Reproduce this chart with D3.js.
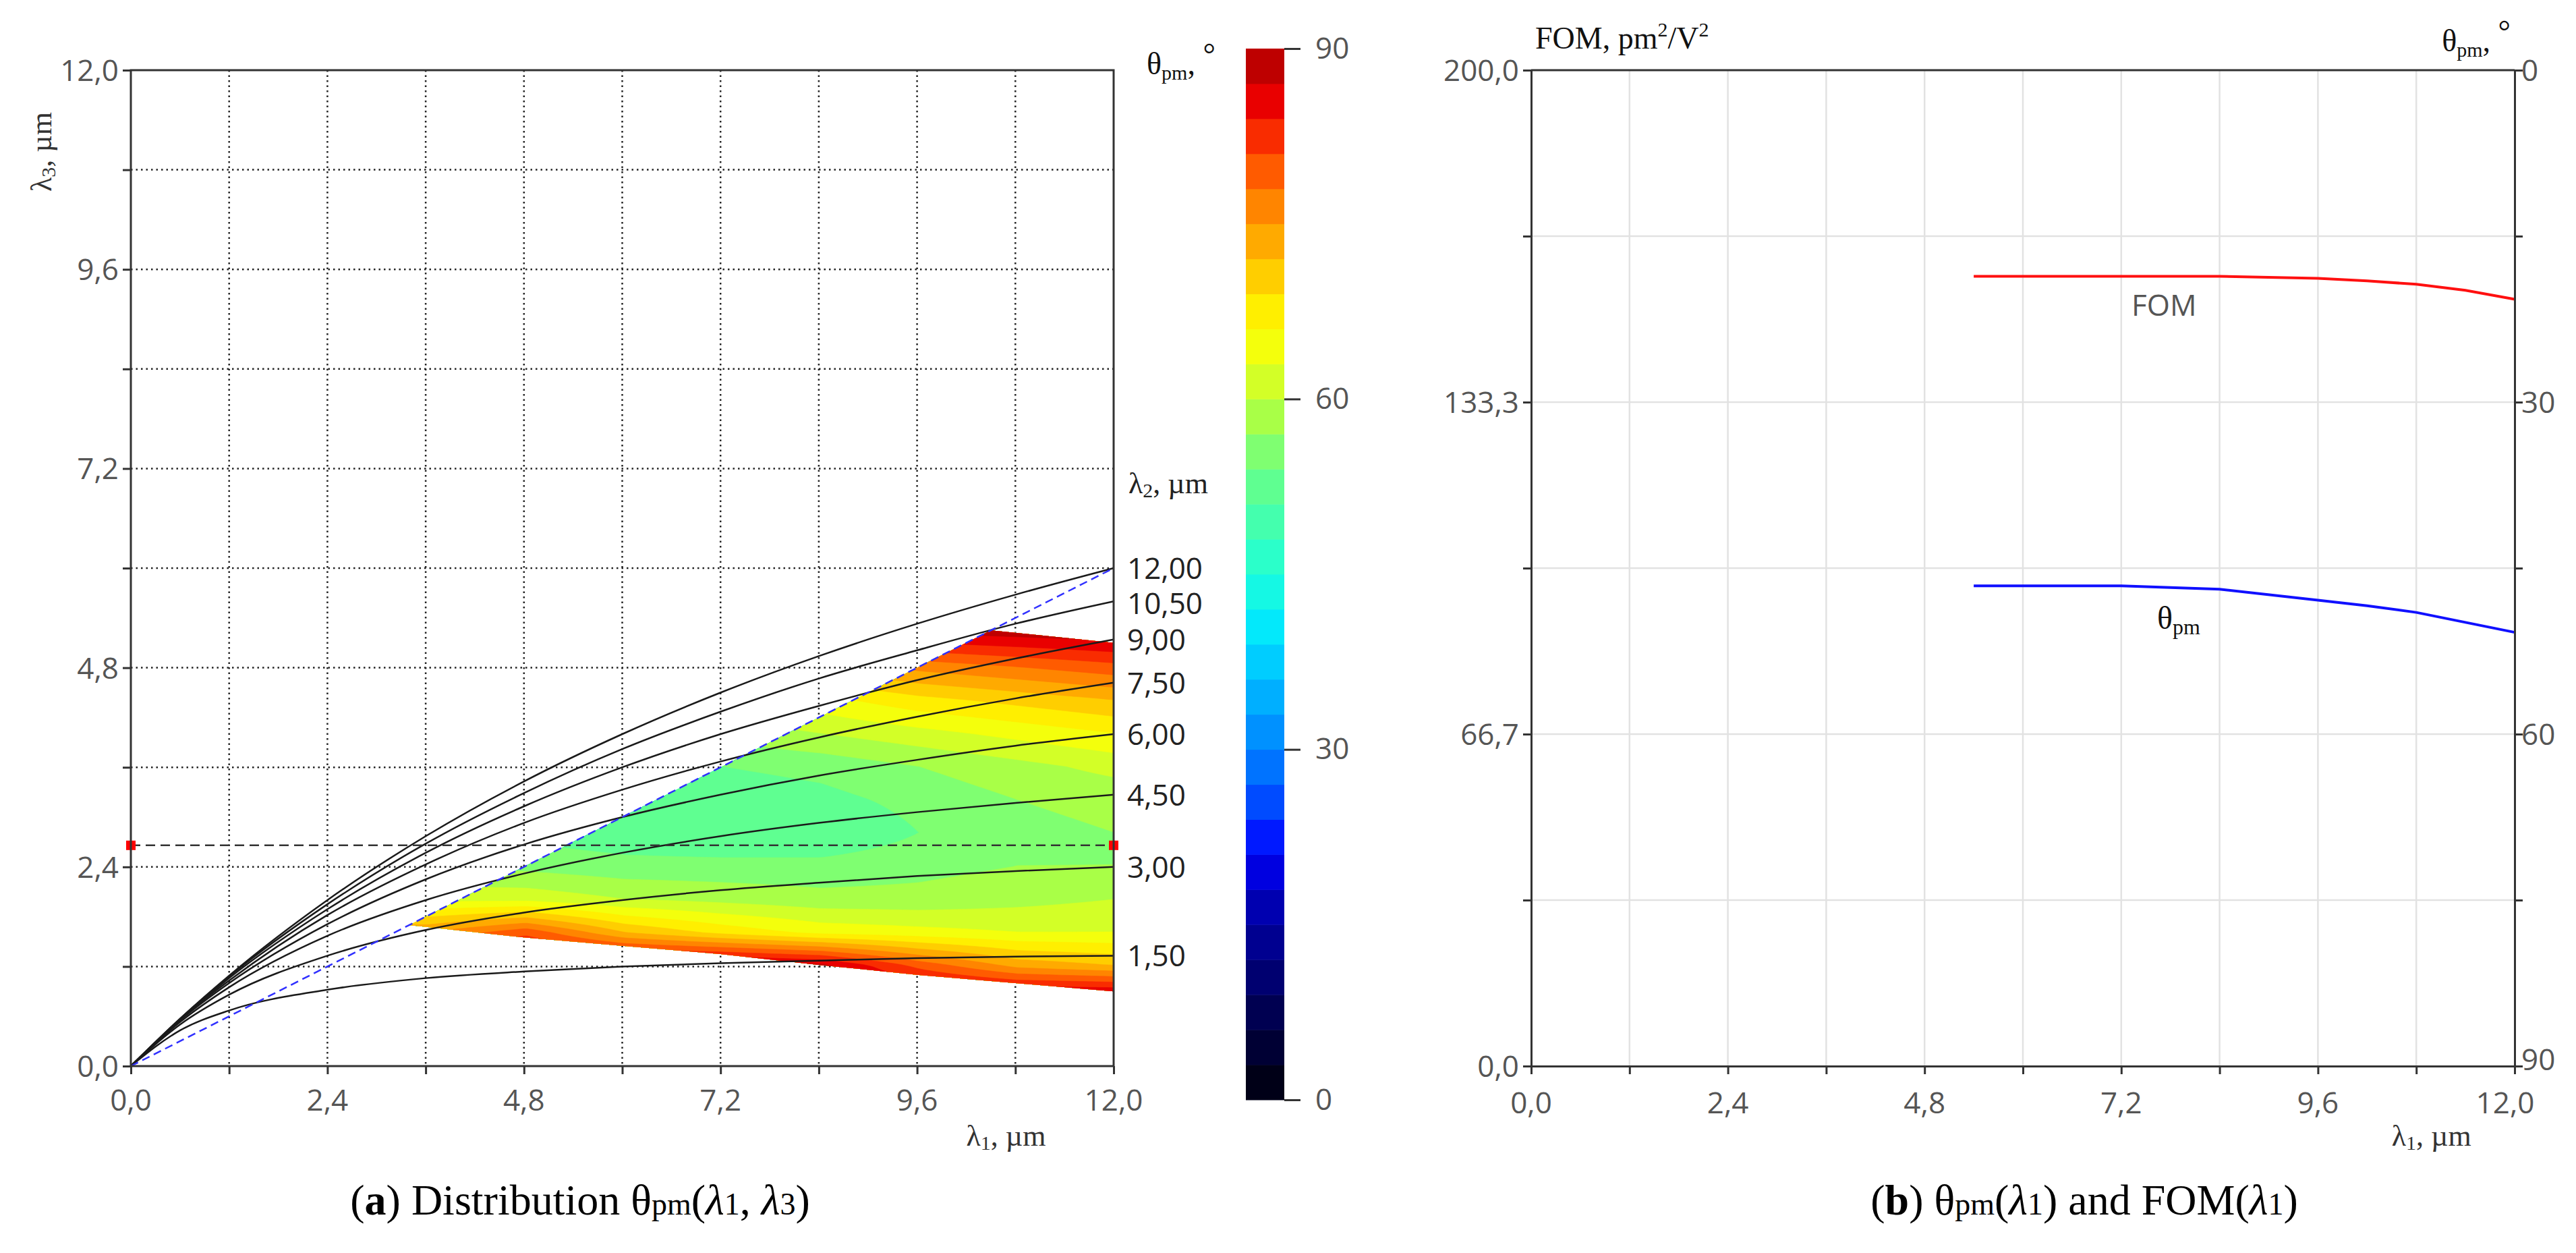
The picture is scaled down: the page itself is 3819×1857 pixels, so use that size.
<!DOCTYPE html>
<html><head><meta charset="utf-8">
<script src="https://cdn.jsdelivr.net/npm/d3@7"></script>
<style>
body{margin:0;background:#fff}
text{font-family:"Open Sans","Noto Sans",sans-serif}
.serif{font-family:"Liberation Serif","DejaVu Serif",serif}
</style></head><body>
<svg id="c" width="3819" height="1857"></svg>
<script>
// ---- data ----
const lambda1Grid = [0, 0.6, 1.2, 2.4, 3.6, 4.8, 6.0, 7.2, 8.4, 9.6, 10.8, 12.0];
const lambda2Values = [1.5, 3, 4.5, 6, 7.5, 9, 10.5, 12];
const lambda2Labels = ['1,50', '3,00', '4,50', '6,00', '7,50', '9,00', '10,50', '12,00'];
const lambda3Curves = [
  [0, 0.43, 0.67, 0.92, 1.06, 1.14, 1.20, 1.24, 1.27, 1.30, 1.32, 1.33],
  [0, 0.50, 0.86, 1.33, 1.64, 1.85, 2.00, 2.12, 2.21, 2.29, 2.35, 2.40],
  [0, 0.53, 0.95, 1.57, 2.00, 2.32, 2.57, 2.77, 2.93, 3.06, 3.17, 3.27],
  [0, 0.55, 1.00, 1.71, 2.25, 2.67, 3.00, 3.27, 3.50, 3.69, 3.86, 4.00],
  [0, 0.56, 1.03, 1.82, 2.43, 2.93, 3.33, 3.67, 3.96, 4.21, 4.43, 4.62],
  [0, 0.56, 1.06, 1.89, 2.57, 3.13, 3.60, 4.00, 4.34, 4.65, 4.91, 5.14],
  [0, 0.57, 1.08, 1.95, 2.68, 3.29, 3.82, 4.27, 4.67, 5.01, 5.33, 5.60],
  [0, 0.57, 1.09, 2.00, 2.77, 3.43, 4.00, 4.50, 4.94, 5.33, 5.68, 6.00]
];
const diagX = [0, 12], diagY = [0, 6];
const cutLambda3 = 2.66;

// phase-matching region boundary
const regionX = [3.4, 4.8, 6.0, 7.2, 8.4, 9.6, 10.8, 12.0, 12.0, 10.5, 3.4];
const regionY = [1.70, 1.55, 1.45, 1.35, 1.22, 1.10, 1.00, 0.90, 5.10, 5.25, 1.70];

// theta_pm field (deg): rows = lambda3, cols = lambda1
const fieldX = [2.4, 3.6, 4.8, 6.0, 7.2, 8.4, 9.6, 10.8, 12.0];
const fieldY = [0.8, 1.2, 1.6, 2.0, 2.4, 2.8, 3.2, 3.6, 4.0, 4.4, 4.8, 5.2, 5.6];
const thetaField = [
  [90, 90, 90, 90, 90, 90, 90, 90, 90],
  [90, 90, 90, 90, 90, 88, 80, 74, 72],
  [75, 75, 80, 72, 68, 65, 64, 63, 63],
  [62, 62, 62, 60, 59, 58, 58, 59, 60],
  [57, 57, 56, 55, 55, 55, 56, 57, 57],
  [55, 55, 53, 52, 51, 51, 54, 56, 57],
  [55, 55, 53, 52, 52, 53, 55, 57, 58],
  [56, 56, 55, 54, 54, 55, 57, 59, 61],
  [58, 58, 57, 57, 58, 60, 62, 64, 66],
  [62, 62, 62, 62, 63, 65, 68, 70, 72],
  [68, 68, 68, 68, 70, 73, 76, 78, 80],
  [80, 80, 80, 80, 82, 85, 87, 88, 89],
  [90, 90, 90, 90, 90, 90, 90, 90, 90]
];
const colorStops = [
  [0, '#000008'], [9, '#000060'], [18, '#0000c0'], [21, '#0000ff'], [27, '#0064ff'],
  [33, '#00a0ff'], [40, '#00e6ff'], [45, '#1effd8'], [51, '#50ffa0'], [55, '#78ff78'],
  [59, '#b0ff40'], [63, '#e8ff18'], [66, '#ffff00'], [71, '#ffc800'], [76, '#ff8c00'],
  [81, '#ff4600'], [85, '#f00000'], [88, '#c80000'], [90, '#a00000']
];
const colorTicks = [0, 30, 60, 90];

// right panel
const fomX = [5.4, 6.0, 7.2, 8.4, 9.6, 10.2, 10.8, 11.4, 12.0];
const fomY = [158.6, 158.6, 158.6, 158.6, 158.2, 157.7, 157.0, 155.8, 154.0];
const thetaY = [46.6, 46.6, 46.6, 46.9, 47.9, 48.4, 49.0, 49.9, 50.8];
const fomTicks = [0, 66.7, 133.3, 200];
const thetaTicks = [90, 60, 30, 0];
const xLabelTicks = [0, 2.4, 4.8, 7.2, 9.6, 12];

const svg = d3.select('#c');
const fmt = v => d3.format('.1f')(v).replace('.', ',');
const gridVals = d3.range(0, 12.01, 1.2);

const bandColor = v => {
  const sc = d3.scaleLinear().domain(colorStops.map(d => d[0])).range(colorStops.map(d => d[1]));
  return sc(Math.min(90, Math.floor(v / 3) * 3 + 1.5));
};

// ===== panel (a) =====
const A = {l: 194, r: 1651, t: 104, b: 1580};
const ax = d3.scaleLinear().domain([0, 12]).range([A.l, A.r]);
const ay = d3.scaleLinear().domain([0, 12]).range([A.b, A.t]);
const ga = svg.append('g');

ga.append('g').selectAll('line.v').data(gridVals.slice(1, -1)).join('line')
  .attr('x1', d => ax(d)).attr('x2', d => ax(d)).attr('y1', A.t).attr('y2', A.b)
  .attr('stroke', '#222').attr('stroke-width', 2.5).attr('stroke-dasharray', '2.5,5');
ga.append('g').selectAll('line.h').data(gridVals.slice(1, -1)).join('line')
  .attr('y1', d => ay(d)).attr('y2', d => ay(d)).attr('x1', A.l).attr('x2', A.r)
  .attr('stroke', '#222').attr('stroke-width', 2.5).attr('stroke-dasharray', '2.5,5');

// field via contours
const nx = 200, ny = 200;
const x0 = fieldX[0], x1 = fieldX[fieldX.length - 1], y0 = fieldY[0], y1 = fieldY[fieldY.length - 1];
const values = new Array(nx * ny);
const fxi = d3.scaleLinear().domain(fieldX).range(d3.range(fieldX.length)).clamp(true);
const fyi = d3.scaleLinear().domain(fieldY).range(d3.range(fieldY.length)).clamp(true);
for (let j = 0; j < ny; j++) {
  const yv = y0 + (y1 - y0) * j / (ny - 1);
  const fj = fyi(yv), j0 = Math.min(Math.floor(fj), fieldY.length - 2), tj = fj - j0;
  for (let i = 0; i < nx; i++) {
    const xv = x0 + (x1 - x0) * i / (nx - 1);
    const fi = fxi(xv), i0 = Math.min(Math.floor(fi), fieldX.length - 2), ti = fi - i0;
    const a = thetaField[j0][i0], b = thetaField[j0][i0 + 1];
    const c = thetaField[j0 + 1][i0], d = thetaField[j0 + 1][i0 + 1];
    values[j * nx + i] = (a * (1 - ti) + b * ti) * (1 - tj) + (c * (1 - ti) + d * ti) * tj;
  }
}
const contours = d3.contours().size([nx, ny]).thresholds(d3.range(0, 90, 3))(values);
const proj = d3.geoTransform({point(px, py) {
  this.stream.point(ax(x0 + (x1 - x0) * px / (nx - 1)), ay(y0 + (y1 - y0) * py / (ny - 1)));
}});
svg.append('clipPath').attr('id', 'reg').append('path')
  .attr('d', d3.line().x((d, i) => ax(regionX[i])).y((d, i) => ay(regionY[i]))(regionX));
ga.append('g').attr('clip-path', 'url(#reg)').selectAll('path').data(contours).join('path')
  .attr('d', d3.geoPath(proj)).attr('fill', d => bandColor(d.value)).attr('stroke', d => bandColor(d.value)).attr('stroke-width', 0.6);

// curves
const line = d3.line().curve(d3.curveMonotoneX);
lambda3Curves.forEach(c => {
  ga.append('path').attr('d', line(lambda1Grid.map((x, i) => [ax(x), ay(c[i])])))
    .attr('fill', 'none').attr('stroke', '#1a1a1a').attr('stroke-width', 2.5);
});
ga.append('path').attr('d', line(diagX.map((x, i) => [ax(x), ay(diagY[i])])))
  .attr('stroke', '#3030ff').attr('stroke-width', 2.5).attr('stroke-dasharray', '12,7').attr('fill', 'none');
ga.append('line').attr('x1', ax(0)).attr('x2', ax(12)).attr('y1', ay(cutLambda3)).attr('y2', ay(cutLambda3))
  .attr('stroke', '#333').attr('stroke-width', 2.5).attr('stroke-dasharray', '14,8');
[0, 12].forEach(x => ga.append('rect').attr('x', ax(x) - 7).attr('y', ay(cutLambda3) - 7)
  .attr('width', 14).attr('height', 14).attr('fill', '#ff0000'));

// frame & axes
ga.append('rect').attr('x', A.l).attr('y', A.t).attr('width', A.r - A.l).attr('height', A.b - A.t)
  .attr('fill', 'none').attr('stroke', '#333').attr('stroke-width', 3);
ga.append('g').attr('transform', `translate(0,${A.b})`)
  .call(d3.axisBottom(ax).tickValues(gridVals).tickSize(12).tickFormat(''))
  .call(g => g.select('.domain').remove()).selectAll('line').attr('stroke', '#333').attr('stroke-width', 3);
ga.append('g').attr('transform', `translate(${A.l},0)`)
  .call(d3.axisLeft(ay).tickValues(gridVals).tickSize(12).tickFormat(''))
  .call(g => g.select('.domain').remove()).selectAll('line').attr('stroke', '#333').attr('stroke-width', 3);
ga.selectAll('text.xt').data(xLabelTicks).join('text')
  .attr('x', d => ax(d)).attr('y', A.b + 66).attr('text-anchor', 'middle')
  .attr('font-size', 44).attr('fill', '#555').text(fmt);
ga.selectAll('text.yt').data(xLabelTicks).join('text')
  .attr('x', A.l - 18).attr('y', d => ay(d) + 16).attr('text-anchor', 'end')
  .attr('font-size', 44).attr('fill', '#555').text(fmt);
const l1 = ga.append('text').attr('class', 'serif').attr('x', ax(10.2)).attr('y', A.b + 118).attr('font-size', 44).attr('fill', '#333');
l1.append('tspan').text('λ'); l1.append('tspan').attr('font-size', 30).attr('dy', 6).text('1');
l1.append('tspan').attr('dy', -6).text(', µm');
const l3 = ga.append('text').attr('class', 'serif').attr('transform', `translate(${A.l - 118},${A.t + 180}) rotate(-90)`)
  .attr('font-size', 44).attr('fill', '#333');
l3.append('tspan').text('λ'); l3.append('tspan').attr('font-size', 30).attr('dy', 6).text('3');
l3.append('tspan').attr('dy', -6).text(', µm');

// lambda2 labels (placed at curve ends, pushed apart so they don't collide)
const l2 = ga.append('text').attr('class', 'serif').attr('x', A.r + 22).attr('y', ay(6.9)).attr('font-size', 44).attr('fill', '#222');
l2.append('tspan').text('λ'); l2.append('tspan').attr('font-size', 30).attr('dy', 6).text('2');
l2.append('tspan').attr('dy', -6).text(', µm');
const labelY = lambda3Curves.map(c => ay(c[c.length - 1]) + 16);
for (let i = labelY.length - 2; i >= 0; i--) labelY[i] = Math.max(labelY[i], labelY[i + 1] + 52);
ga.selectAll('text.l2').data(lambda2Labels).join('text')
  .attr('x', A.r + 20).attr('y', (d, i) => labelY[i])
  .attr('font-size', 44).attr('fill', '#222').text(d => d);

// colorbar
const cb = {x: 1847, w: 57, t: 72, b: 1630};
const cy = d3.scaleLinear().domain([0, 90]).range([cb.b, cb.t]);
ga.append('g').selectAll('rect').data(d3.range(0, 90, 3)).join('rect')
  .attr('x', cb.x).attr('width', cb.w).attr('y', d => cy(d + 3)).attr('height', d => cy(d) - cy(d + 3) + 0.5)
  .attr('fill', d => bandColor(d));
ga.append('g').attr('transform', `translate(${cb.x + cb.w},0)`)
  .call(d3.axisRight(cy).tickValues(colorTicks).tickSize(24).tickPadding(22).tickFormat(d3.format('d')))
  .call(g => g.select('.domain').remove())
  .call(g => g.selectAll('line').attr('stroke', '#333').attr('stroke-width', 3))
  .call(g => g.selectAll('text').attr('font-size', 44).attr('fill', '#555').attr('font-family', '"Open Sans",sans-serif'));
const cbt = ga.append('text').attr('class', 'serif').attr('x', 1700).attr('y', 110).attr('font-size', 46).attr('fill', '#111');
cbt.append('tspan').text('θ'); cbt.append('tspan').attr('font-size', 30).attr('dy', 8).text('pm');
cbt.append('tspan').attr('dy', -8).text(', ');
cbt.append('tspan').attr('dy', -14).text('°');

// ===== panel (b) =====
const B = {l: 2270, r: 3728, t: 104, b: 1580};
const bx = d3.scaleLinear().domain([0, 12]).range([B.l, B.r]);
const by = d3.scaleLinear().domain([0, 200]).range([B.b, B.t]);
const bt = d3.scaleLinear().domain([0, 90]).range([B.t, B.b]);
const gb = svg.append('g');
const fomGrid = d3.range(0, 200.01, 200 / 6);
gb.selectAll('line.v').data(gridVals.slice(1, -1)).join('line')
  .attr('x1', d => bx(d)).attr('x2', d => bx(d)).attr('y1', B.t).attr('y2', B.b)
  .attr('stroke', '#e2e2e2').attr('stroke-width', 2.5);
gb.selectAll('line.h').data(fomGrid.slice(1, -1)).join('line')
  .attr('y1', d => by(d)).attr('y2', d => by(d)).attr('x1', B.l).attr('x2', B.r)
  .attr('stroke', '#e2e2e2').attr('stroke-width', 2.5);
gb.append('path').attr('d', d3.line().x((d, i) => bx(fomX[i])).y(d => by(d))(fomY))
  .attr('fill', 'none').attr('stroke', '#ff1010').attr('stroke-width', 4);
gb.append('path').attr('d', d3.line().x((d, i) => bx(fomX[i])).y(d => bt(d))(thetaY))
  .attr('fill', 'none').attr('stroke', '#1010ff').attr('stroke-width', 4);
gb.append('text').attr('x', 3160).attr('y', 468).attr('font-size', 44).attr('fill', '#555').text('FOM');
const tl = gb.append('text').attr('class', 'serif').attr('x', 3198).attr('y', 932).attr('font-size', 48).attr('fill', '#111');
tl.append('tspan').text('θ'); tl.append('tspan').attr('font-size', 32).attr('dy', 8).text('pm');

gb.append('line').attr('x1', B.l).attr('x2', B.r).attr('y1', B.t).attr('y2', B.t).attr('stroke', '#333').attr('stroke-width', 3);
gb.append('g').attr('transform', `translate(0,${B.b})`)
  .call(d3.axisBottom(bx).tickValues(gridVals).tickSize(12).tickFormat(''))
  .call(g => g.select('.domain').attr('stroke', '#333').attr('stroke-width', 3))
  .selectAll('line').attr('stroke', '#333').attr('stroke-width', 3);
gb.append('g').attr('transform', `translate(${B.l},0)`)
  .call(d3.axisLeft(by).tickValues(fomGrid).tickSize(12).tickFormat(''))
  .call(g => g.select('.domain').attr('stroke', '#333').attr('stroke-width', 3))
  .selectAll('line').attr('stroke', '#333').attr('stroke-width', 3);
gb.append('g').attr('transform', `translate(${B.r},0)`)
  .call(d3.axisRight(bt).tickValues(d3.range(0, 90.1, 15)).tickSize(12).tickFormat(''))
  .call(g => g.select('.domain').attr('stroke', '#333').attr('stroke-width', 3))
  .selectAll('line').attr('stroke', '#333').attr('stroke-width', 3);
gb.selectAll('text.xt').data(xLabelTicks).join('text')
  .attr('x', d => bx(d) - (d === 12 ? 14 : 0)).attr('y', B.b + 70).attr('text-anchor', 'middle')
  .attr('font-size', 44).attr('fill', '#555').text(fmt);
gb.selectAll('text.yt').data(fomTicks).join('text')
  .attr('x', B.l - 18).attr('y', d => by(d) + 16).attr('text-anchor', 'end')
  .attr('font-size', 44).attr('fill', '#555').text(fmt);
gb.selectAll('text.rt').data(thetaTicks).join('text')
  .attr('x', B.r + 10).attr('y', d => bt(d) + (d === 90 ? 6 : 16))
  .attr('font-size', 44).attr('fill', '#555').text(d => d);
const bl1 = gb.append('text').attr('class', 'serif').attr('x', bx(10.5)).attr('y', B.b + 118).attr('font-size', 44).attr('fill', '#333');
bl1.append('tspan').text('λ'); bl1.append('tspan').attr('font-size', 30).attr('dy', 6).text('1');
bl1.append('tspan').attr('dy', -6).text(', µm');
const ft = gb.append('text').attr('class', 'serif').attr('x', B.l + 6).attr('y', 72).attr('font-size', 46).attr('fill', '#111');
ft.append('tspan').text('FOM, pm'); ft.append('tspan').attr('font-size', 30).attr('dy', -18).text('2');
ft.append('tspan').attr('dy', 18).text('/V'); ft.append('tspan').attr('font-size', 30).attr('dy', -18).text('2');
const rt = gb.append('text').attr('class', 'serif').attr('x', B.r - 6).attr('y', 76).attr('text-anchor', 'end').attr('font-size', 46).attr('fill', '#111');
rt.append('tspan').text('θ'); rt.append('tspan').attr('font-size', 30).attr('dy', 8).text('pm');
rt.append('tspan').attr('dy', -8).text(', '); rt.append('tspan').attr('dy', -14).text('°');

// captions
function caption(x, letter, parts) {
  const t = svg.append('text').attr('class', 'serif').attr('x', x).attr('y', 1800)
    .attr('text-anchor', 'middle').attr('font-size', 64).attr('fill', '#000');
  t.append('tspan').text('(');
  t.append('tspan').attr('font-weight', 'bold').text(letter);
  t.append('tspan').text(') ');
  parts.forEach(p => {
    const s = t.append('tspan').text(p.t);
    if (p.sub) s.attr('font-size', 46);
    if (p.it) s.attr('font-style', 'italic');
  });
}
caption(860, 'a', [{t: 'Distribution θ'}, {t: 'pm', sub: 1}, {t: '('}, {t: 'λ', it: 1}, {t: '1', sub: 1}, {t: ', '}, {t: 'λ', it: 1}, {t: '3', sub: 1}, {t: ')'}]);
caption(3090, 'b', [{t: 'θ'}, {t: 'pm', sub: 1}, {t: '('}, {t: 'λ', it: 1}, {t: '1', sub: 1}, {t: ') and FOM('}, {t: 'λ', it: 1}, {t: '1', sub: 1}, {t: ')'}]);
</script></body></html>
